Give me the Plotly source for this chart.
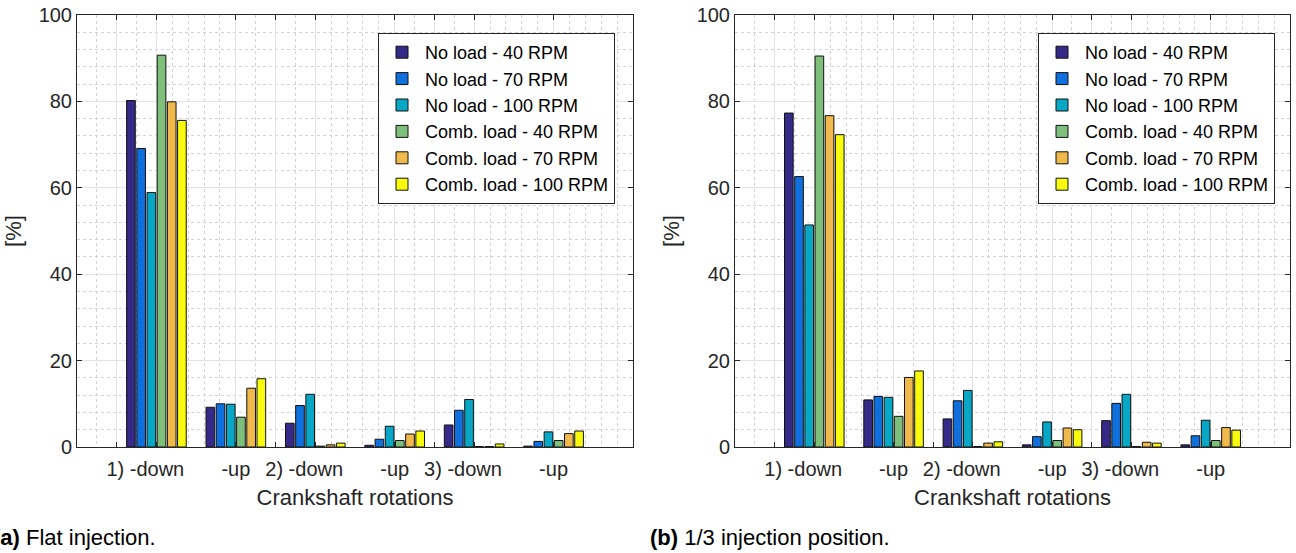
import plotly.graph_objects as go

# ---------------- data ----------------
categories = ["1) -down", "-up", "2) -down", "-up", "3) -down", "-up"]
cat_pos = [1, 2, 3, 4, 5, 6]
series_names = ["No load - 40 RPM", "No load - 70 RPM", "No load - 100 RPM",
                "Comb. load - 40 RPM", "Comb. load - 70 RPM", "Comb. load - 100 RPM"]
series_colors = ["#352A87", "#0F6FDC", "#07A7C5", "#7DBF7B", "#F0B94B", "#F9FB0E"]

# (a) Flat injection
flat_nl40 = [80.2, 9.2, 5.5, 0.4, 5.1, 0.2]
flat_nl70 = [69.1, 10.0, 9.6, 1.8, 8.5, 1.3]
flat_nl100 = [58.9, 9.9, 12.2, 4.8, 11.0, 3.5]
flat_c40 = [90.7, 6.9, 0.2, 1.5, 0.1, 1.5]
flat_c70 = [79.9, 13.6, 0.5, 3.0, 0.1, 3.1]
flat_c100 = [75.6, 15.8, 0.9, 3.7, 0.7, 3.7]

# (b) 1/3 injection position
third_nl40 = [77.3, 10.9, 6.5, 0.5, 6.1, 0.5]
third_nl70 = [62.6, 11.7, 10.7, 2.4, 10.1, 2.6]
third_nl100 = [51.4, 11.5, 13.1, 5.8, 12.2, 6.2]
third_c40 = [90.5, 7.1, 0.1, 1.5, 0.1, 1.5]
third_c70 = [76.7, 16.1, 0.9, 4.4, 1.1, 4.5]
third_c100 = [72.3, 17.6, 1.2, 4.0, 0.9, 3.9]

y_tickvals = [0, 20, 40, 60, 80, 100]
x_title = "Crankshaft rotations"
y_title = "[%]"
caption_a = "<b>(a)</b> Flat injection."
caption_b = "<b>(b)</b> 1/3 injection position."

# ---------------- figure ----------------
FONT = "Liberation Sans, Arial, Helvetica, sans-serif"
AX = "#262626"
NBSP = "\u00a0"

flat = [flat_nl40, flat_nl70, flat_nl100, flat_c40, flat_c70, flat_c100]
third = [third_nl40, third_nl70, third_nl100, third_c40, third_c70, third_c100]

fig = go.Figure()
for panel, (data, xa, ya, lg) in enumerate([(flat, "x", "y", "legend"),
                                             (third, "x2", "y2", "legend2")]):
    for name, color, vals in zip(series_names, series_colors, data):
        fig.add_trace(go.Bar(
            x=cat_pos, y=vals, name=name, xaxis=xa, yaxis=ya, legend=lg,
            marker=dict(color=color, line=dict(color="#111111", width=1)),
        ))

# tick positions: boundaries between pairs + group centres
tickvals = [0.5, 1, 2, 2.5, 3, 4, 4.5, 5, 6]
ticktext = []
for v in tickvals:
    if v in cat_pos:
        lbl = categories[cat_pos.index(v)]
        if "down" in lbl:
            lbl = lbl + NBSP * 4
        ticktext.append(lbl)
    else:
        ticktext.append("")
minor_x = [0.25, 0.75, 1.2, 1.4, 1.6, 1.8, 2.25, 2.75, 3.2, 3.4, 3.6, 3.8,
           4.25, 4.75, 5.2, 5.4, 5.6, 5.8, 6.2, 6.4, 6.6, 6.8]

W, H = 1296, 553
dom_y = [(H - 447) / H, (H - 15) / H]
dom_x1 = [77 / W, 633 / W]
dom_x2 = [735 / W, 1290 / W]

xcommon = dict(
    range=[0, 7], tickmode="array", tickvals=tickvals, ticktext=ticktext,
    ticks="inside", ticklen=5, tickcolor=AX, showline=True, linecolor=AX, linewidth=1,
    mirror="ticks", showgrid=True, gridcolor="#E3E3E3", gridwidth=1,
    minor=dict(tickmode="array", tickvals=minor_x, showgrid=True, gridcolor="#D3D3D3",
               griddash="dot", gridwidth=1, ticks=""),
    tickfont=dict(size=20, color=AX, family=FONT), zeroline=False, ticklabelstandoff=4,
    title=dict(text=x_title, font=dict(size=22, color=AX, family=FONT), standoff=10),
    automargin=False, fixedrange=True,
)
ycommon = dict(
    range=[0, 100], tickmode="array", tickvals=y_tickvals,
    ticks="inside", ticklen=5, tickcolor=AX, showline=True, linecolor=AX, linewidth=1,
    mirror="ticks", showgrid=True, gridcolor="#E3E3E3", gridwidth=1,
    minor=dict(dtick=4, showgrid=True, gridcolor="#D3D3D3", griddash="dot", gridwidth=1, ticks=""),
    tickfont=dict(size=20, color=AX, family=FONT), zeroline=False,
    title=dict(text=y_title, font=dict(size=22, color=AX, family=FONT), standoff=10),
    automargin=False, fixedrange=True,
)

legcommon = dict(
    bgcolor="white", bordercolor=AX, borderwidth=1,
    font=dict(size=18, color="black", family=FONT),
    xanchor="right", yanchor="top", y=1 - 33 / H,
    itemwidth=36, tracegroupgap=0, traceorder="normal",
)

fig.update_layout(
    width=W, height=H,
    margin=dict(l=0, r=0, t=0, b=0, autoexpand=False),
    paper_bgcolor="white", plot_bgcolor="white",
    barmode="group", bargap=0.23, bargroupgap=0.15,
    font=dict(family=FONT, color=AX),
    xaxis=dict(domain=dom_x1, anchor="y", **xcommon),
    yaxis=dict(domain=dom_y, anchor="x", **ycommon),
    xaxis2=dict(domain=dom_x2, anchor="y2", **xcommon),
    yaxis2=dict(domain=dom_y, anchor="x2", **ycommon),
    legend=dict(x=615 / W, **legcommon),
    legend2=dict(x=1275 / W, **legcommon),
    annotations=[
        dict(text=caption_a, xref="paper", yref="paper", x=-9 / W, y=(H - 537) / H,
             xanchor="left", yanchor="middle", showarrow=False,
             font=dict(size=22, color="black", family=FONT)),
        dict(text=caption_b, xref="paper", yref="paper", x=648 / W, y=(H - 537) / H,
             xanchor="left", yanchor="middle", showarrow=False,
             font=dict(size=22, color="black", family=FONT)),
    ],
)

fig.write_html("out.html")
